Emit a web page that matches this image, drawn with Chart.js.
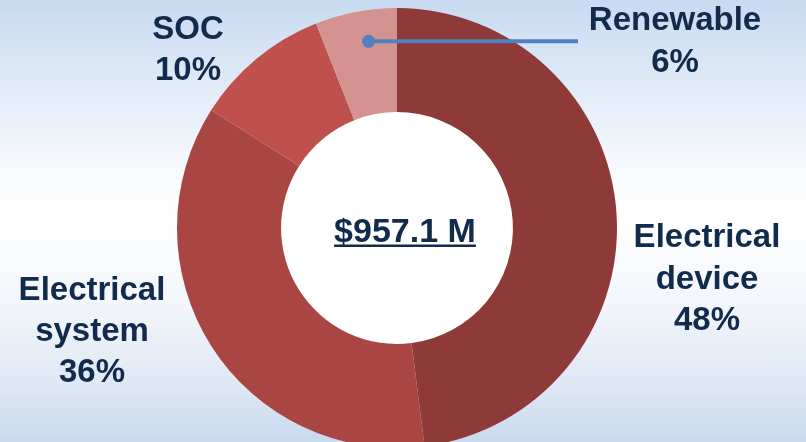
<!DOCTYPE html>
<html>
<head>
<meta charset="utf-8">
<script src="https://cdn.jsdelivr.net/npm/chart.js@4.4.0/dist/chart.umd.min.js"></script>
<style>
  html, body { margin: 0; padding: 0; overflow: hidden; }
  #wrap {
    position: relative; width: 806px; height: 442px; overflow: hidden;
    background: linear-gradient(to bottom, #c8daf1 0%, #e4edf8 22%, #fbfcfe 42%, #ffffff 50%, #f3f6fb 68%, #dde7f4 88%, #c9d9ee 100%);
  }
  canvas { position: absolute; left: 0; top: 0; }
</style>
</head>
<body>
<div id="wrap"><canvas id="c" width="806" height="460"></canvas></div>
<script>
const categories = ["Electrical device", "Electrical system", "SOC", "Renewable"];
const shares = [48, 36, 10, 6];
const labelLines = [
  ["Electrical", "device", "48%"],
  ["Electrical", "system", "36%"],
  ["SOC", "10%"],
  ["Renewable", "6%"]
];
const totalLabel = "$957.1 M";

const sliceColors = ["#8e3a39", "#a94644", "#c0504d", "#d49391"];
const textColor = "#122a4b";
const labelFont = "bold 33px 'Liberation Sans', Arial, sans-serif";
const centerFont = "bold 34px 'Liberation Sans', Arial, sans-serif";
// label anchor (center x, first baseline y) and line height
const labelLayout = [
  { x: 707, y: 247, lh: 41.5 },
  { x: 92,  y: 300, lh: 41 },
  { x: 188, y: 39,  lh: 41 },
  { x: 675, y: 30,  lh: 42 }
];

const labelPlugin = {
  id: 'labelPlugin',
  beforeDatasetsDraw(chart) {
    const arc = chart.getDatasetMeta(0).data[0];
    const p = arc.getProps(['x', 'y', 'innerRadius'], true);
    const ctx = chart.ctx;
    ctx.save();
    ctx.fillStyle = "#ffffff";
    ctx.beginPath();
    ctx.arc(p.x, p.y, p.innerRadius + 1, 0, Math.PI * 2);
    ctx.fill();
    ctx.restore();
  },
  afterDraw(chart) {
    const ctx = chart.ctx;
    const meta = chart.getDatasetMeta(0);
    // leader line for Renewable
    const arc = meta.data[3];
    const p = arc.getProps(['x', 'y', 'startAngle', 'endAngle', 'innerRadius', 'outerRadius'], true);
    const a = p.startAngle + 0.6 * (p.endAngle - p.startAngle);
    const r = p.innerRadius + 0.7 * (p.outerRadius - p.innerRadius);
    const dx = p.x + r * Math.cos(a);
    const dy = p.y + r * Math.sin(a);
    ctx.save();
    ctx.strokeStyle = "#4f81bd";
    ctx.fillStyle = "#4f81bd";
    ctx.lineWidth = 4;
    ctx.beginPath();
    ctx.moveTo(dx, dy);
    ctx.lineTo(578, dy);
    ctx.stroke();
    ctx.beginPath();
    ctx.arc(dx, dy, 6.5, 0, Math.PI * 2);
    ctx.fill();
    ctx.restore();

    // category labels
    ctx.save();
    ctx.fillStyle = textColor;
    ctx.font = labelFont;
    ctx.textAlign = "center";
    ctx.textBaseline = "alphabetic";
    labelLines.forEach((lines, i) => {
      const L = labelLayout[i];
      lines.forEach((t, j) => ctx.fillText(t, L.x, L.y + j * L.lh));
    });
    // center total
    ctx.font = centerFont;
    const cx = p.x + 8, cy = 242;
    ctx.fillText(totalLabel, cx, cy);
    const w = ctx.measureText(totalLabel).width;
    ctx.fillRect(cx - w / 2, cy + 2.5, w, 2.5);
    ctx.restore();
  }
};

new Chart(document.getElementById('c'), {
  type: 'doughnut',
  data: {
    labels: categories,
    datasets: [{
      data: shares,
      backgroundColor: sliceColors,
      borderWidth: 0,
      hoverOffset: 0,
      spacing: 0
    }]
  },
  options: {
    responsive: false,
    animation: false,
    cutout: '52.7%',
    layout: { padding: { top: 8, bottom: 12, left: 0, right: 12 } },
    plugins: { legend: { display: false }, tooltip: { enabled: false } },
    events: []
  },
  plugins: [labelPlugin]
});
</script>
</body>
</html>
